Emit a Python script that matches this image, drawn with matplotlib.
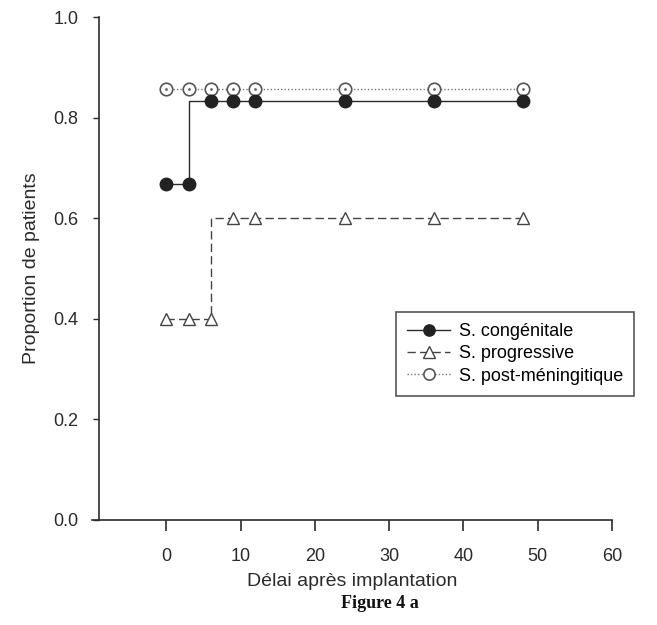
import numpy as np
import matplotlib
matplotlib.use("Agg")
import matplotlib.pyplot as plt

plt.rcParams['font.family'] = ['Liberation Sans', 'DejaVu Sans']

# délai (mois) et proportions
months = [0, 3, 6, 9, 12, 24, 36, 48]
congenitale = [0.667, 0.667, 0.833, 0.833, 0.833, 0.833, 0.833, 0.833]
progressive = [0.4, 0.4, 0.4, 0.6, 0.6, 0.6, 0.6, 0.6]
post_meningitique = [0.857, 0.857, 0.857, 0.857, 0.857, 0.857, 0.857, 0.857]

xticks = [0, 10, 20, 30, 40, 50, 60]
yticks = [0.0, 0.2, 0.4, 0.6, 0.8, 1.0]

ink = "#2b2b2b"

fig = plt.figure(figsize=(6.57, 6.25), dpi=100)
ax = fig.add_axes([92/657, 1-520/625, (612-92)/657, (520-17)/625])

ax.plot(months, post_meningitique, drawstyle="steps-pre", color="#777777",
        linestyle=(0, (1, 1.5)), linewidth=1.0, marker="o", markersize=9,
        markerfacecolor="white", markeredgecolor="#555555", markeredgewidth=1.2,
        label="S. post-méningitique")
ax.plot(months, post_meningitique, linestyle="none", marker=".", markersize=2,
        color="#666666")
ax.plot(months, congenitale, drawstyle="steps-pre", color=ink,
        linestyle="-", linewidth=1.0, marker="o", markersize=9,
        markerfacecolor="#222222", markeredgecolor="#222222",
        label="S. congénitale")
ax.plot(months, progressive, drawstyle="steps-pre", color="#444444",
        linestyle=(0, (6, 3)), linewidth=1.0, marker="^", markersize=9,
        markerfacecolor="white", markeredgecolor="#444444", markeredgewidth=1.0,
        label="S. progressive")

ax.set_xlim(-10, 60)
ax.set_ylim(0, 1.0)
ax.spines["top"].set_visible(False)
ax.spines["right"].set_visible(False)
ax.spines["left"].set_position(("data", -9))
for s in ("left", "bottom"):
    ax.spines[s].set_color(ink)
    ax.spines[s].set_linewidth(1.2)

ax.set_xticks(xticks)
ax.set_yticks(yticks)
ax.set_yticklabels(["%.1f" % v for v in yticks])
ax.tick_params(axis="x", direction="out", length=8, width=1.2, pad=12,
               labelsize=13, colors=ink)
ax.tick_params(axis="y", direction="out", length=4, width=1.0, pad=11,
               labelsize=13, colors=ink)

ax.set_ylabel("Proportion de patients", fontsize=14, color=ink, labelpad=10)
ax.set_xlabel("Délai après implantation", fontsize=14, color=ink, labelpad=6)
fig.text(380/657, 1-604/625, "Figure 4 a", ha="center", va="center",
         fontsize=13, fontweight="bold", family="Liberation Serif", color="#111111")

handles, labels = ax.get_legend_handles_labels()
order = [1, 2, 0]
leg = ax.legend([handles[i] for i in order], [labels[i] for i in order],
                loc="upper left", bbox_to_anchor=((396-92)/520, 1-(312-17)/503),
                fontsize=13, frameon=True, fancybox=False, handlelength=2.4,
                borderpad=0.6, labelspacing=0.3, handletextpad=0.5,
                borderaxespad=0, markerscale=0.9)
leg.get_frame().set_edgecolor(ink)
leg.get_frame().set_linewidth(1.2)

fig.savefig("out.png", dpi=100)
